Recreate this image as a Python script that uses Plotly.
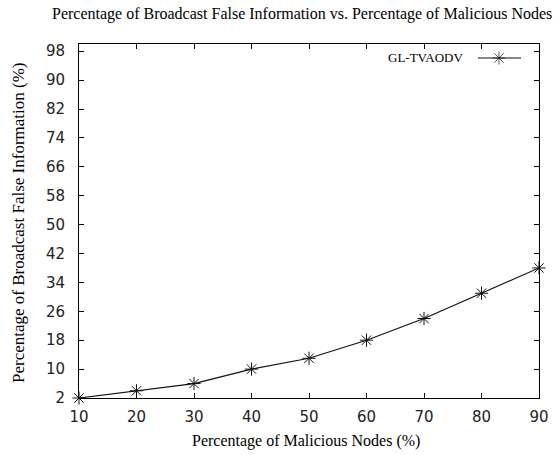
import plotly.graph_objects as go

# Percentage of malicious nodes (x) and broadcast false information (y)
malicious_nodes = [10, 20, 30, 40, 50, 60, 70, 80, 90]
false_info = [2, 4, 6, 10, 13, 18, 24, 31, 38]
series_name = "GL-TVAODV"
x_ticks = [10, 20, 30, 40, 50, 60, 70, 80, 90]
y_ticks = [2, 10, 18, 26, 34, 42, 50, 58, 66, 74, 82, 90, 98]

W, H = 560, 455
L, R, T, B = 79, 21, 44, 57
plot_w = W - L - R
plot_h = H - T - B

serif = "Liberation Serif, Times New Roman, serif"
sans = "DejaVu Sans, sans-serif"

star = dict(symbol="asterisk-open", size=11, line=dict(color="#222", width=1))

fig = go.Figure()
fig.add_trace(go.Scatter(
    x=malicious_nodes, y=false_info, mode="lines+markers",
    name=series_name, line=dict(color="#111", width=1.2),
    marker=star, cliponaxis=False, showlegend=False,
))

# key sample drawn to the right of its label, on an overlay unit axis
def px_to_fx(px):
    return (px - L) / plot_w

def py_to_fy(py):
    return (H - B - py) / plot_h

key_y = py_to_fy(58)
fig.add_trace(go.Scatter(
    x=[px_to_fx(478), px_to_fx(499), px_to_fx(521)], y=[key_y] * 3,
    mode="lines+markers", xaxis="x2", yaxis="y2",
    line=dict(color="#111", width=1.2),
    marker=dict(symbol="asterisk-open", size=[0, 11, 0],
                line=dict(color="#222", width=1)),
    cliponaxis=False, showlegend=False, hoverinfo="skip",
))

axis_common = dict(
    showline=True, linecolor="black", linewidth=1, mirror="ticks",
    ticks="inside", ticklen=5, tickcolor="black", tickwidth=1,
    showgrid=False, zeroline=False,
    tickfont=dict(family=sans, size=15, color="#222"),
)

fig.update_layout(
    width=W, height=H,
    margin=dict(l=L, r=R, t=T, b=B),
    plot_bgcolor="white", paper_bgcolor="white",
    xaxis=dict(range=[10, 90], tickvals=x_ticks, ticklabelstandoff=5, **axis_common),
    yaxis=dict(range=[2, 100], tickvals=y_ticks, ticklabelstandoff=10, **axis_common),
    xaxis2=dict(range=[0, 1], overlaying="x", visible=False),
    yaxis2=dict(range=[0, 1], overlaying="y", visible=False),
    showlegend=False,
    annotations=[
        dict(text="Percentage of Broadcast False Information vs. Percentage of Malicious Nodes",
             xref="paper", yref="paper", x=(302 - L) / plot_w, y=1,
             xanchor="center", yanchor="middle", yshift=T - 14,
             showarrow=False, font=dict(family=serif, size=16, color="black")),
        dict(text="Percentage of Malicious Nodes (%)",
             xref="paper", yref="paper", x=px_to_fx(306), y=0,
             xanchor="center", yanchor="middle", yshift=-(441 - (H - B)),
             showarrow=False, font=dict(family=serif, size=16, color="black")),
        dict(text="Percentage of Broadcast False Information (%)",
             xref="paper", yref="paper", x=0, y=py_to_fy(223), textangle=-90,
             xanchor="center", yanchor="middle", xshift=18 - L,
             showarrow=False, font=dict(family=serif, size=17, color="black")),
        dict(text=series_name, xref="paper", yref="paper",
             x=px_to_fx(465), y=key_y, xanchor="right", yanchor="middle",
             showarrow=False, font=dict(family=serif, size=13, color="black")),
    ],
)

fig.write_html("out.html")
